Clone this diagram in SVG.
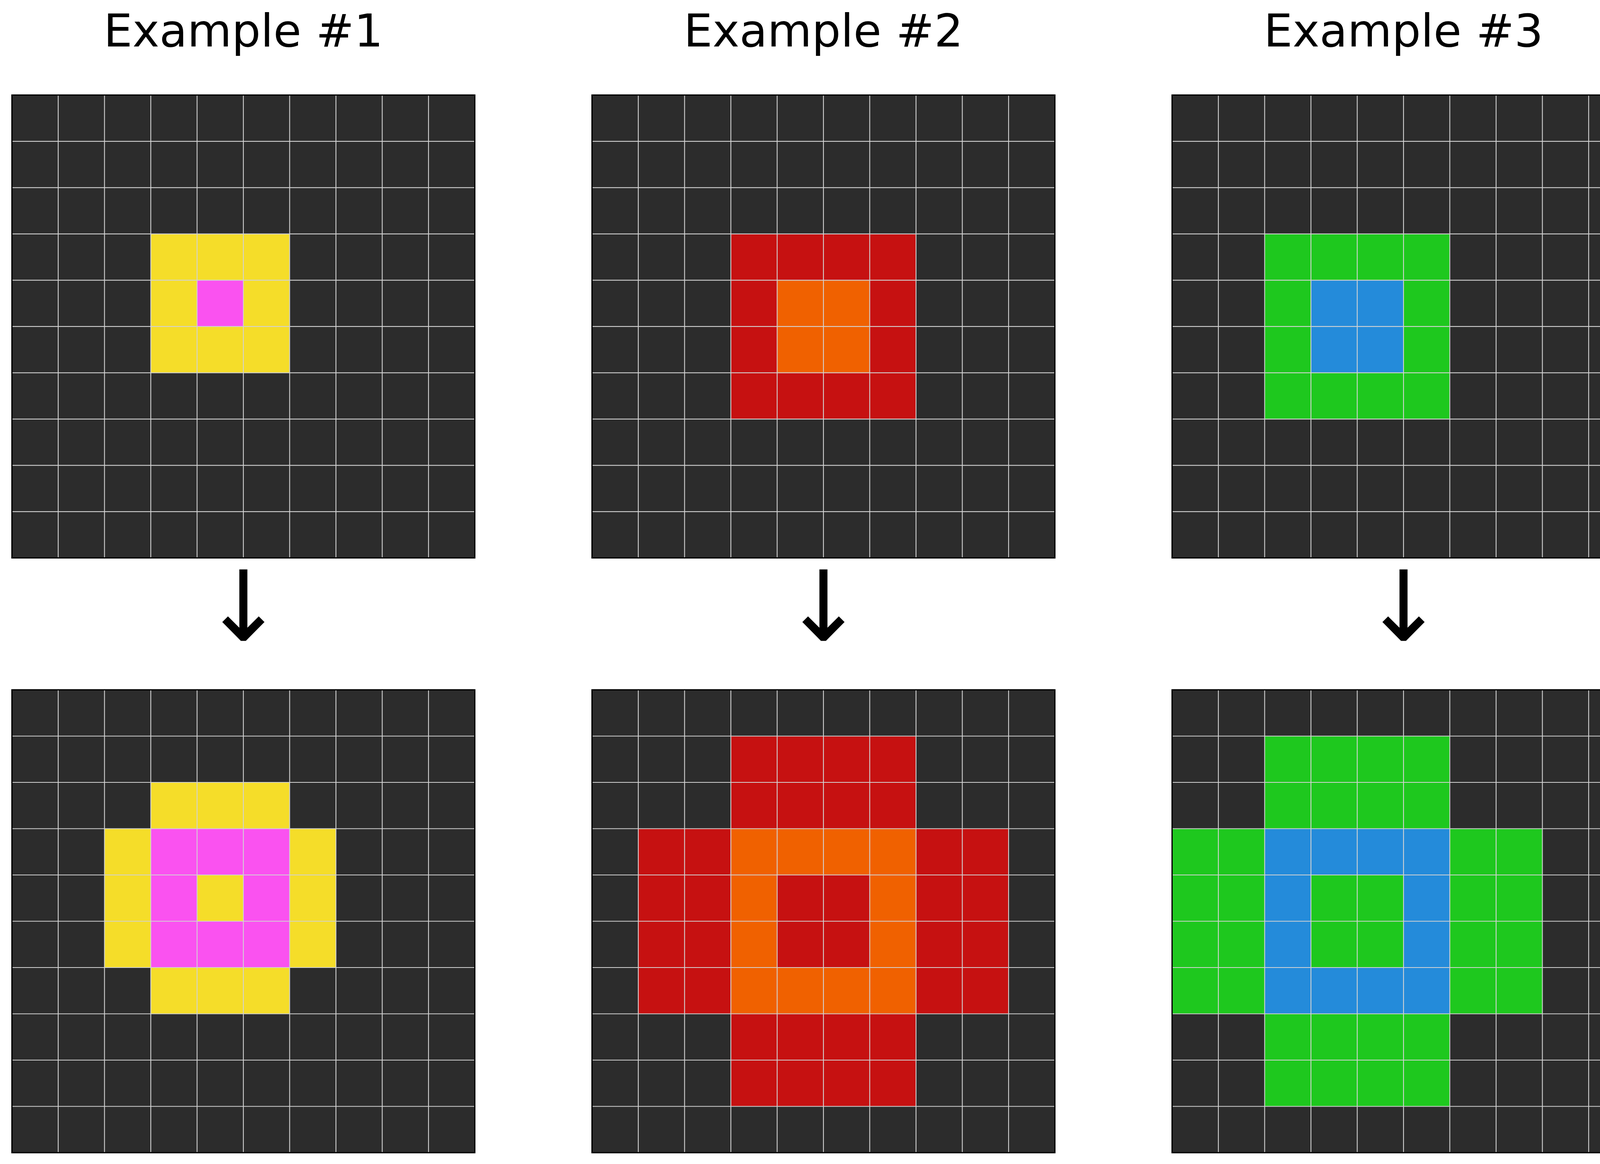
<svg xmlns="http://www.w3.org/2000/svg" xmlns:xlink="http://www.w3.org/1999/xlink" width="4214" height="2980" viewBox="0 0 4214 2980">
<style>
.bg{fill:#2c2c2c}
.Y{fill:#f5dd29}
.M{fill:#fa52f0}
.R{fill:#c61111}
.O{fill:#f06100}
.G{fill:#1ec81e}
.B{fill:#248bda}
.gl{fill:none;stroke:#d2d2d2;stroke-width:2.2}
.bd{fill:none;stroke:#000;stroke-width:3.2}
.title{font-family:"DejaVu Sans","Liberation Sans",sans-serif;font-size:116.7px;fill:#000;text-anchor:middle}
.arrow{fill:#000}
</style>
<defs>
<path id="gridlines" class="gl" d="M0 0V1185M118.5 0V1185M237 0V1185M355.5 0V1185M474 0V1185M592.5 0V1185M711 0V1185M829.5 0V1185M948 0V1185M1066.5 0V1185M1185 0V1185M0 0H1185M0 118.5H1185M0 237H1185M0 355.5H1185M0 474H1185M0 592.5H1185M0 711H1185M0 829.5H1185M0 948H1185M0 1066.5H1185M0 1185H1185"/>
<path id="downarrow" class="arrow" d="M-10.3,-183H10.3V-33.6L39.4,-62.7L54,-48.1L6.35,0H-6.35L-54,-48.1L-39.4,-62.7L-10.3,-33.6Z"/>
</defs>
<rect width="4214" height="2980" fill="#fff"/>

<g id="titles">
<text id="title1" class="title" x="623" y="119">Example #1</text>
<text id="title2" class="title" x="2108" y="119">Example #2</text>
<text id="title3" class="title" x="3593" y="119">Example #3</text>
</g>

<g id="example1-input" transform="translate(30.5,243.3)">
<rect class="bg" width="1185" height="1185"/>
<rect class="Y" x="355.5" y="355.5" width="355.5" height="355.5"/>
<rect class="M" x="474" y="474" width="118.5" height="118.5"/>
<use xlink:href="#gridlines"/>
<rect class="bd" width="1185" height="1185"/>
</g>

<g id="example2-input" transform="translate(1515.5,243.3)">
<rect class="bg" width="1185" height="1185"/>
<rect class="R" x="355.5" y="355.5" width="474" height="474"/>
<rect class="O" x="474" y="474" width="237" height="237"/>
<use xlink:href="#gridlines"/>
<rect class="bd" width="1185" height="1185"/>
</g>

<g id="example3-input" transform="translate(3000.5,243.3)">
<rect class="bg" width="1185" height="1185"/>
<rect class="G" x="237" y="355.5" width="474" height="474"/>
<rect class="B" x="355.5" y="474" width="237" height="237"/>
<use xlink:href="#gridlines"/>
<rect class="bd" width="1185" height="1185"/>
</g>

<g id="example1-output" transform="translate(30.5,1766)">
<rect class="bg" width="1185" height="1185"/>
<rect class="Y" x="355.5" y="237" width="355.5" height="592.5"/>
<rect class="Y" x="237" y="355.5" width="118.5" height="355.5"/>
<rect class="Y" x="711" y="355.5" width="118.5" height="355.5"/>
<rect class="M" x="355.5" y="355.5" width="355.5" height="355.5"/>
<rect class="Y" x="474" y="474" width="118.5" height="118.5"/>
<use xlink:href="#gridlines"/>
<rect class="bd" width="1185" height="1185"/>
</g>

<g id="example2-output" transform="translate(1515.5,1766)">
<rect class="bg" width="1185" height="1185"/>
<rect class="R" x="355.5" y="118.5" width="474" height="948"/>
<rect class="R" x="118.5" y="355.5" width="237" height="474"/>
<rect class="R" x="829.5" y="355.5" width="237" height="474"/>
<rect class="O" x="355.5" y="355.5" width="474" height="474"/>
<rect class="R" x="474" y="474" width="237" height="237"/>
<use xlink:href="#gridlines"/>
<rect class="bd" width="1185" height="1185"/>
</g>

<g id="example3-output" transform="translate(3000.5,1766)">
<rect class="bg" width="1185" height="1185"/>
<rect class="G" x="237" y="118.5" width="474" height="948"/>
<rect class="G" x="0" y="355.5" width="237" height="474"/>
<rect class="G" x="711" y="355.5" width="237" height="474"/>
<rect class="B" x="237" y="355.5" width="474" height="474"/>
<rect class="G" x="355.5" y="474" width="237" height="237"/>
<use xlink:href="#gridlines"/>
<rect class="bd" width="1185" height="1185"/>
</g>

<g id="connectors">
<use id="arrow1" xlink:href="#downarrow" transform="translate(623,1640.7)"/>
<use id="arrow2" xlink:href="#downarrow" transform="translate(2108,1640.7)"/>
<use id="arrow3" xlink:href="#downarrow" transform="translate(3593,1640.7)"/>
</g>
</svg>
